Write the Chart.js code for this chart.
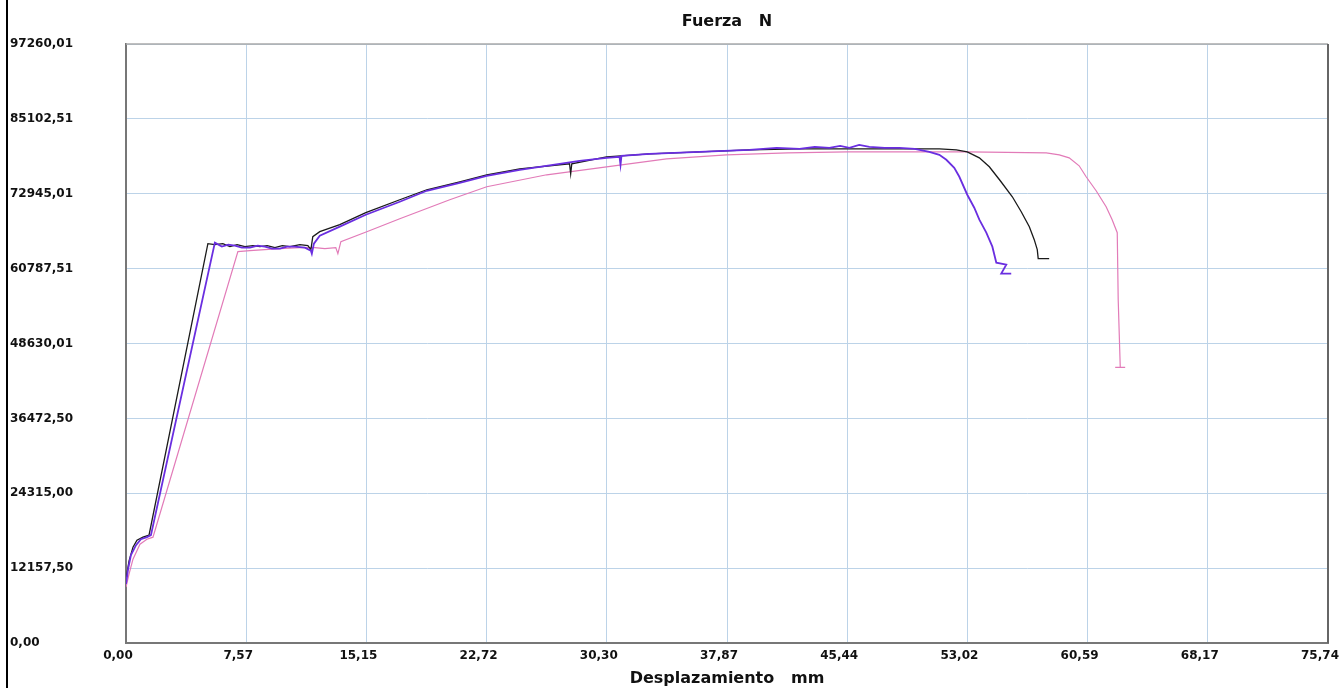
<!DOCTYPE html>
<html>
<head>
<meta charset="utf-8">
<script src="https://cdn.jsdelivr.net/npm/chart.js@4.4.1/dist/chart.umd.min.js"></script>
<style>
  html, body { margin: 0; padding: 0; background: #fff; }
  #wrap { width: 1344px; height: 688px; }
</style>
</head>
<body>
<div id="wrap"><canvas id="fuerza"></canvas></div>
<script>
// tick values and labels
const xTickValues = [0, 7.574, 15.148, 22.722, 30.296, 37.87, 45.444, 53.018, 60.592, 68.166, 75.74];
const xTickLabels = ["0,00", "7,57", "15,15", "22,72", "30,30", "37,87", "45,44", "53,02", "60,59", "68,17", "75,74"];
const yTickValues = [0, 12157.5, 24315, 36472.5, 48630.01, 60787.51, 72945.01, 85102.51, 97260.01];
const yTickLabels = ["0,00", "12157,50", "24315,00", "36472,50", "48630,01", "60787,51", "72945,01", "85102,51", "97260,01"];

// probeta 1 (negra)
const blackX = [0, 0.19, 0.44, 0.69, 1.07, 1.45, 5.16, 5.60, 6.10, 6.55, 7.00, 7.49, 8.00, 8.44, 8.90, 9.38, 9.85, 10.33, 10.96, 11.46, 11.65, 11.77, 12.21, 13.47, 15.11, 17.25, 18.95, 21.03, 22.73, 24.81, 27.95, 28.02, 28.09, 30.28, 32.99, 36.14, 39.29, 42.44, 45.58, 48.73, 51.25, 52.32, 53.01, 53.77, 54.40, 55.09, 55.85, 56.41, 56.92, 57.23, 57.42, 57.48, 58.17];
const blackY = [10374, 13292, 15562, 16696, 17183, 17507, 64840, 64678, 64840, 64356, 64678, 64356, 64518, 64356, 64518, 64194, 64518, 64356, 64678, 64518, 63873, 65975, 66785, 67920, 69865, 71972, 73593, 74890, 76025, 76998, 77808, 76187, 77808, 78943, 79429, 79753, 80077, 80240, 80240, 80240, 80240, 80077, 79753, 78781, 77322, 75052, 72459, 70027, 67596, 65488, 63867, 62409, 62409];

// probeta 2 (violeta)
const purpleX = [0, 0.13, 0.31, 0.63, 0.94, 1.32, 1.57, 5.60, 6.04, 6.45, 6.86, 7.30, 7.81, 8.30, 8.75, 9.20, 9.70, 10.15, 10.64, 11.27, 11.65, 11.71, 11.84, 12.21, 13.47, 15.11, 17.25, 18.95, 21.03, 22.73, 24.81, 28.58, 30.28, 31.10, 31.16, 31.22, 32.99, 36.14, 39.29, 41.00, 42.44, 43.40, 44.32, 45.00, 45.58, 46.20, 46.84, 47.80, 48.73, 49.70, 50.62, 51.25, 51.69, 52.19, 52.51, 53.01, 53.45, 53.77, 54.21, 54.59, 54.84, 55.47, 55.15, 55.78];
const purpleY = [9564, 11995, 14265, 15886, 16858, 17183, 17507, 65002, 64356, 64678, 64518, 64194, 64194, 64518, 64356, 64032, 64032, 64356, 64356, 64194, 63705, 63219, 64840, 66137, 67596, 69541, 71648, 73431, 74728, 75863, 76835, 78294, 78781, 78943, 77646, 79105, 79429, 79753, 80077, 80402, 80240, 80564, 80402, 80726, 80402, 80888, 80564, 80402, 80402, 80240, 79753, 79267, 78456, 77160, 75701, 72785, 70676, 68730, 66623, 64354, 61760, 61436, 59977, 59977];

// probeta 3 (rosa)
const pinkX = [0, 0.19, 0.44, 0.88, 1.32, 1.70, 7.05, 7.81, 8.75, 9.70, 10.96, 11.90, 12.53, 13.22, 13.35, 13.54, 15.17, 17.25, 20.40, 22.73, 26.51, 30.28, 34.06, 37.84, 41.68, 45.46, 49.23, 53.01, 57.99, 58.81, 59.43, 60.06, 60.50, 61.13, 61.76, 62.14, 62.46, 62.52, 62.65, 62.33, 62.96];
const pinkY = [9078, 11185, 13616, 16048, 16858, 17183, 63543, 63705, 63867, 64032, 64194, 64194, 64032, 64194, 63219, 65164, 66785, 68893, 71972, 74080, 76025, 77322, 78619, 79267, 79591, 79753, 79753, 79753, 79591, 79267, 78781, 77484, 75701, 73431, 70838, 68730, 66623, 55762, 44740, 44740, 44740];

const toPoints = (xs, ys) => xs.map((x, i) => ({ x: x, y: ys[i] }));

const tickFont = { family: "DejaVu Sans", size: 12, weight: "bold" };
const titleFont = { family: "DejaVu Sans", size: 16, weight: "bold" };

// marco del grafico: bordes superior/derecho y linea negra de la izquierda
const framePlugin = {
  id: "frame",
  afterDraw(chart) {
    const { ctx, chartArea } = chart;
    ctx.save();
    ctx.strokeStyle = "#aaaaaa";
    ctx.lineWidth = 1.5;
    ctx.beginPath();
    ctx.moveTo(chartArea.left, chartArea.top);
    ctx.lineTo(chartArea.right, chartArea.top);
    ctx.stroke();
    ctx.strokeStyle = "#666666";
    ctx.lineWidth = 2;
    ctx.beginPath();
    ctx.moveTo(chartArea.right, chartArea.top);
    ctx.lineTo(chartArea.right, chartArea.bottom);
    ctx.stroke();
    ctx.fillStyle = "#000";
    ctx.fillRect(6, 0, 2, chart.height);
    ctx.restore();
  }
};

new Chart(document.getElementById("fuerza"), {
  type: "scatter",
  data: {
    datasets: [
      {
        data: toPoints(purpleX, purpleY),
        borderColor: "#6a2ee0",
        borderWidth: 1.8,
        showLine: true,
        pointRadius: 0,
        tension: 0,
      },
      {
        data: toPoints(blackX, blackY),
        borderColor: "#1a1a1a",
        borderWidth: 1.3,
        showLine: true,
        pointRadius: 0,
        tension: 0,
      },
      {
        data: toPoints(pinkX, pinkY),
        borderColor: "#e27bb8",
        borderWidth: 1.2,
        showLine: true,
        pointRadius: 0,
        tension: 0,
      },
    ],
  },
  options: {
    responsive: true,
    maintainAspectRatio: false,
    animation: false,
    layout: { padding: { left: 10, right: 16, top: 0, bottom: 0 } },
    plugins: {
      legend: { display: false },
      tooltip: { enabled: false },
    },
    scales: {
      // eje superior solo para el titulo, centrado sobre el area del grafico
      xTop: {
        type: "linear",
        position: "top",
        min: 0,
        max: 75.74,
        ticks: { display: false },
        grid: { display: false, drawTicks: false },
        border: { display: false },
        afterFit: (scale) => {
          scale.height = 44;
          scale.paddingLeft = 0;
          scale.paddingRight = 0;
        },
        title: {
          display: true,
          text: "Fuerza   N",
          color: "#111",
          font: titleFont,
          padding: { top: 12, bottom: 0 },
        },
      },
      x: {
        type: "linear",
        min: 0,
        max: 75.74,
        afterBuildTicks: (scale) => {
          scale.ticks = xTickValues.map((v) => ({ value: v }));
        },
        afterFit: (scale) => {
          scale.height = 45;
          scale.paddingLeft = 0;
          scale.paddingRight = 0;
        },
        ticks: {
          autoSkip: false,
          maxRotation: 0,
          padding: 6,
          labelOffset: -8,
          color: "#111",
          font: tickFont,
          callback: (value, index) => xTickLabels[index],
        },
        grid: { color: "#bcd3e8", lineWidth: 1, drawTicks: false },
        border: { display: true, color: "#777777", width: 2 },
        title: {
          display: true,
          text: "Desplazamiento   mm",
          color: "#111",
          font: titleFont,
          padding: { top: 0, bottom: 0 },
        },
      },
      y: {
        type: "linear",
        min: 0,
        max: 97260.01,
        afterBuildTicks: (scale) => {
          scale.ticks = yTickValues.map((v) => ({ value: v }));
        },
        afterFit: (scale) => {
          scale.width = 116;
        },
        ticks: {
          autoSkip: false,
          crossAlign: "far",
          color: "#111",
          font: tickFont,
          callback: (value, index) => yTickLabels[index],
        },
        grid: { color: "#bcd3e8", lineWidth: 1, drawTicks: false },
        border: { display: true, color: "#777777", width: 2 },
      },
    },
  },
  plugins: [framePlugin],
});
</script>
</body>
</html>
